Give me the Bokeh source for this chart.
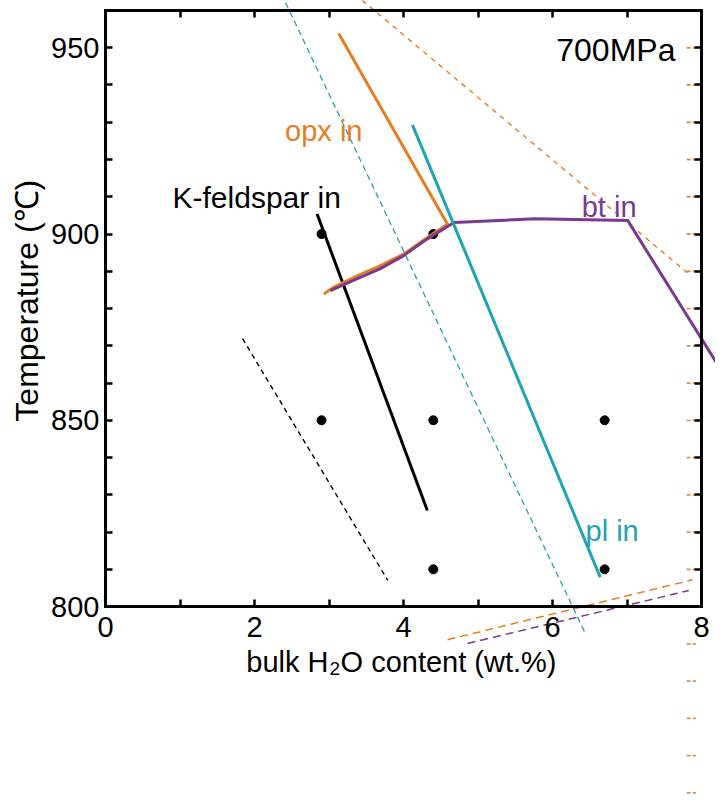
from bokeh.plotting import figure
from bokeh.models import Range1d, LinearAxis, FixedTicker
from bokeh.core.properties import value
from bokeh.embed import file_html
from bokeh.resources import INLINE
import math

# ---------------- data ----------------
x_lim = [0, 8]
t_lim = [800, 960]
x_major = [0, 2, 4, 6, 8]
x_minor = [1, 3, 5, 7]
t_major = [800, 850, 900, 950]
t_minor = [810, 820, 830, 840, 860, 870, 880, 890, 910, 920, 930, 940]
top_ticks = [1, 2, 3, 4, 5, 6, 7]
right_ticks = [810, 820, 830, 840, 850, 860, 870, 880, 890, 900, 910, 920, 930, 940, 950]

# experiment points
pt_x = [2.9, 4.4, 2.9, 4.4, 6.7, 4.4, 6.7]
pt_t = [900, 900, 850, 850, 850, 810, 810]

# opx-in (solid)
opx_x = [3.13, 4.59, 4.32, 4.00, 3.69, 3.38, 3.06, 2.93]
opx_t = [953.8, 902.6, 899.1, 894.6, 891.5, 888.8, 885.7, 883.9]
# bt-in (solid)
bt_x = [3.02, 3.38, 3.69, 4.00, 4.32, 4.68, 5.77, 7.01, 8.40]
bt_t = [884.8, 888.0, 890.7, 894.2, 898.7, 903.1, 904.1, 903.6, 859.1]
# pl-in (solid)
pl_x = [4.12, 6.64]
pl_t = [929.3, 807.9]
# K-feldspar-in (solid)
kfs_x = [2.84, 4.32]
kfs_t = [905.4, 825.8]

# dashed lines
kfs_d_x = [1.84, 3.79]
kfs_d_t = [871.9, 807.0]
pl_d_x = [2.36, 6.44]
pl_d_t = [964.5, 792.8]
opx_d1_x = [3.34, 7.81]
opx_d1_t = [964.5, 889.6]
opx_d2_x = [4.59, 7.88]
opx_d2_t = [791.1, 807.2]
bt_d_x = [4.86, 7.83]
bt_d_t = [790.1, 804.3]

# small orange marks along right edge
mark_t = [750, 760, 770, 780, 790, 800, 810, 820, 830, 840, 850, 860, 870, 880,
          890, 900, 910, 920, 930, 940, 950]
mark_x0 = 7.80
mark_x1 = 7.925

ORANGE = "#E67D1F"
TEAL = "#1FA2B4"
PURPLE = "#7B3990"
FONT = "Liberation Sans"

# ---------------- figure ----------------
p = figure(width=715, height=802,
           x_range=Range1d(-1.4094, 8.1879), y_range=Range1d(747.41, 962.68),
           output_backend="svg", toolbar_location=None,
           x_axis_location=None, y_axis_location=None,
           min_border=0, outline_line_color=None, background_fill_color="white")
p.xgrid.grid_line_color = None
p.ygrid.grid_line_color = None
p.title.visible = False

common = dict(axis_line_width=3, axis_line_color="black", axis_line_cap="square",
              major_tick_in=7, major_tick_out=0, minor_tick_in=7, minor_tick_out=0,
              major_tick_line_width=2.5, minor_tick_line_width=2.5,
              major_tick_line_color="black", minor_tick_line_color="black",
              major_label_text_font=FONT, major_label_text_font_size="29px",
              major_label_text_color="black")

bottom = LinearAxis(fixed_location=t_lim[0], bounds=(x_lim[0], x_lim[1]),
                    ticker=FixedTicker(ticks=x_major, minor_ticks=x_minor),
                    major_label_standoff=10, **common)
p.add_layout(bottom, "below")
left = LinearAxis(fixed_location=x_lim[0], bounds=(t_lim[0], t_lim[1]),
                  ticker=FixedTicker(ticks=t_major, minor_ticks=t_minor),
                  major_label_standoff=6, major_label_orientation="horizontal", **common)
p.add_layout(left, "left")
top = LinearAxis(fixed_location=t_lim[1], bounds=(x_lim[0], x_lim[1]),
                 ticker=FixedTicker(ticks=[], minor_ticks=top_ticks), **common)
p.add_layout(top, "above")
right = LinearAxis(fixed_location=x_lim[1], bounds=(t_lim[0], t_lim[1]),
                   ticker=FixedTicker(ticks=[], minor_ticks=right_ticks), **common)
p.add_layout(right, "right")

# orange marks on right edge (drawn below the axis ticks)
p.segment(x0=[mark_x0] * len(mark_t), y0=mark_t, x1=[mark_x1] * len(mark_t), y1=mark_t,
          line_color=ORANGE, line_width=1.8, line_dash="4 2", line_alpha=0.85)

# dashed lines
p.line(pl_d_x, pl_d_t, line_color=TEAL, line_width=1.3, line_dash="6 4")
p.line(opx_d1_x, opx_d1_t, line_color=ORANGE, line_width=1.4, line_dash="5 5")
p.line(kfs_d_x, kfs_d_t, line_color="black", line_width=1.4, line_dash="5 4")
p.line(opx_d2_x, opx_d2_t, line_color=ORANGE, line_width=1.5, line_dash="8 5")
p.line(bt_d_x, bt_d_t, line_color=PURPLE, line_width=1.5, line_dash="8 5")

# points
p.scatter(pt_x, pt_t, size=9, color="black")

# solid lines
p.line(kfs_x, kfs_t, line_color="black", line_width=3)
p.line(opx_x, opx_t, line_color=ORANGE, line_width=3, line_join="miter")
p.line(bt_x, bt_t, line_color=PURPLE, line_width=3, line_join="miter")
p.line(pl_x, pl_t, line_color=TEAL, line_width=3)

# curve labels
def txt(x, y, s, color, size="29px", align="center", baseline="alphabetic", angle=0.0, x_offset=0):
    p.text(x=[x], y=[y], text=[s], text_color=color, text_font=value(FONT),
           text_font_size=size, text_align=align, text_baseline=baseline,
           angle=angle, x_offset=x_offset)

txt(2.93, 927.7, "opx in", ORANGE)
txt(2.03, 909.8, "K-feldspar in", "black", size="30px")
txt(6.76, 907.2, "bt in", PURPLE)
txt(6.80, 820.4, "pl in", TEAL)
txt(7.65, 949.5, "700MPa", "black", size="32px", align="right")

# axis titles
txt(-1.05, 882.1, "Temperature (\u2103)", "black", size="32px", baseline="middle", angle=math.pi / 2)
txt(3.007, 785.24, "bulk H", "black", align="right", x_offset=-1)
txt(3.007, 783.4, "2", "black", size="19px", align="left")
txt(3.007, 785.24, "O content (wt.%)", "black", align="left", x_offset=11)

open("out.html", "w").write(file_html(p, INLINE))
